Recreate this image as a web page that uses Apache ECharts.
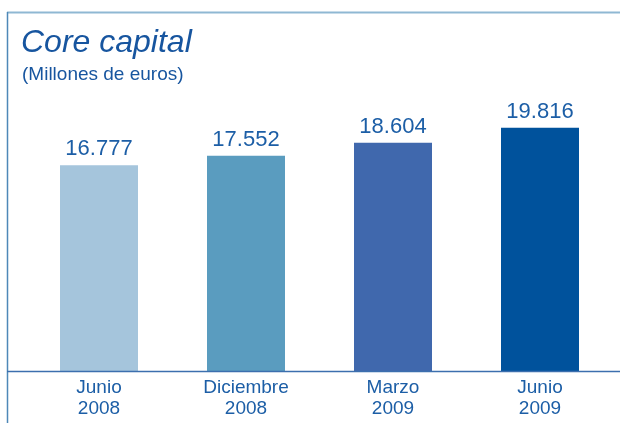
<!DOCTYPE html>
<html><head><meta charset="utf-8">
<script src="https://cdn.jsdelivr.net/npm/echarts@6/dist/echarts.min.js"></script>
<style>html,body{margin:0;padding:0;background:#fff}#c{width:620px;height:423px}</style>
</head><body><div id="c"></div>
<script>
var categories = ['Junio\n2008', 'Diciembre\n2008', 'Marzo\n2009', 'Junio\n2009'];
var values = [16777, 17552, 18604, 19816];
var valueLabels = ['16.777', '17.552', '18.604', '19.816'];
var barColors = ['#a5c5dc', '#5a9cbf', '#4068ad', '#00529c'];

var chart = echarts.init(document.getElementById('c'), null, {renderer: 'canvas'});
chart.setOption({
  animation: false,
  backgroundColor: '#fff',
  graphic: [
    {type: 'line', shape: {x1: 7, y1: 12.5, x2: 620, y2: 12.5}, style: {stroke: '#8fb8d3', lineWidth: 2}},
    {type: 'line', shape: {x1: 7.5, y1: 12, x2: 7.5, y2: 423}, style: {stroke: '#4e88b8', lineWidth: 1.5}},
    {type: 'line', shape: {x1: 7, y1: 371.5, x2: 620, y2: 371.5}, style: {stroke: '#3c6fae', lineWidth: 1.5}, z: 10},
    {type: 'text', x: 21, y: 27, style: {text: 'Core capital', fontSize: 32, fontStyle: 'italic', fontFamily: '"Liberation Sans", Arial, sans-serif', fill: '#17559f'}},
    {type: 'text', x: 22, y: 65, style: {text: '(Millones de euros)', fontSize: 19, fontFamily: '"Liberation Sans", Arial, sans-serif', fill: '#17559f'}}
  ],
  grid: {left: 25.5, width: 588, top: 64.25, height: 306.75, containLabel: false},
  xAxis: {
    type: 'category', data: categories,
    axisLine: {show: false}, axisTick: {show: false},
    axisLabel: {color: '#1c5ea6', fontSize: 19, lineHeight: 21, margin: 6, fontFamily: '"Liberation Sans", Arial, sans-serif'}
  },
  yAxis: {type: 'value', min: 0, max: 25000, show: false, splitLine: {show: false}},
  series: [{
    type: 'bar', barWidth: 78,
    data: values.map(function (v, i) { return {value: v, itemStyle: {color: barColors[i]}}; }),
    label: {
      show: true, position: 'top', distance: 5,
      formatter: function (p) { return valueLabels[p.dataIndex]; },
      color: '#1c5ea6', fontSize: 22, fontFamily: '"Liberation Sans", Arial, sans-serif'
    }
  }]
});
</script></body></html>
